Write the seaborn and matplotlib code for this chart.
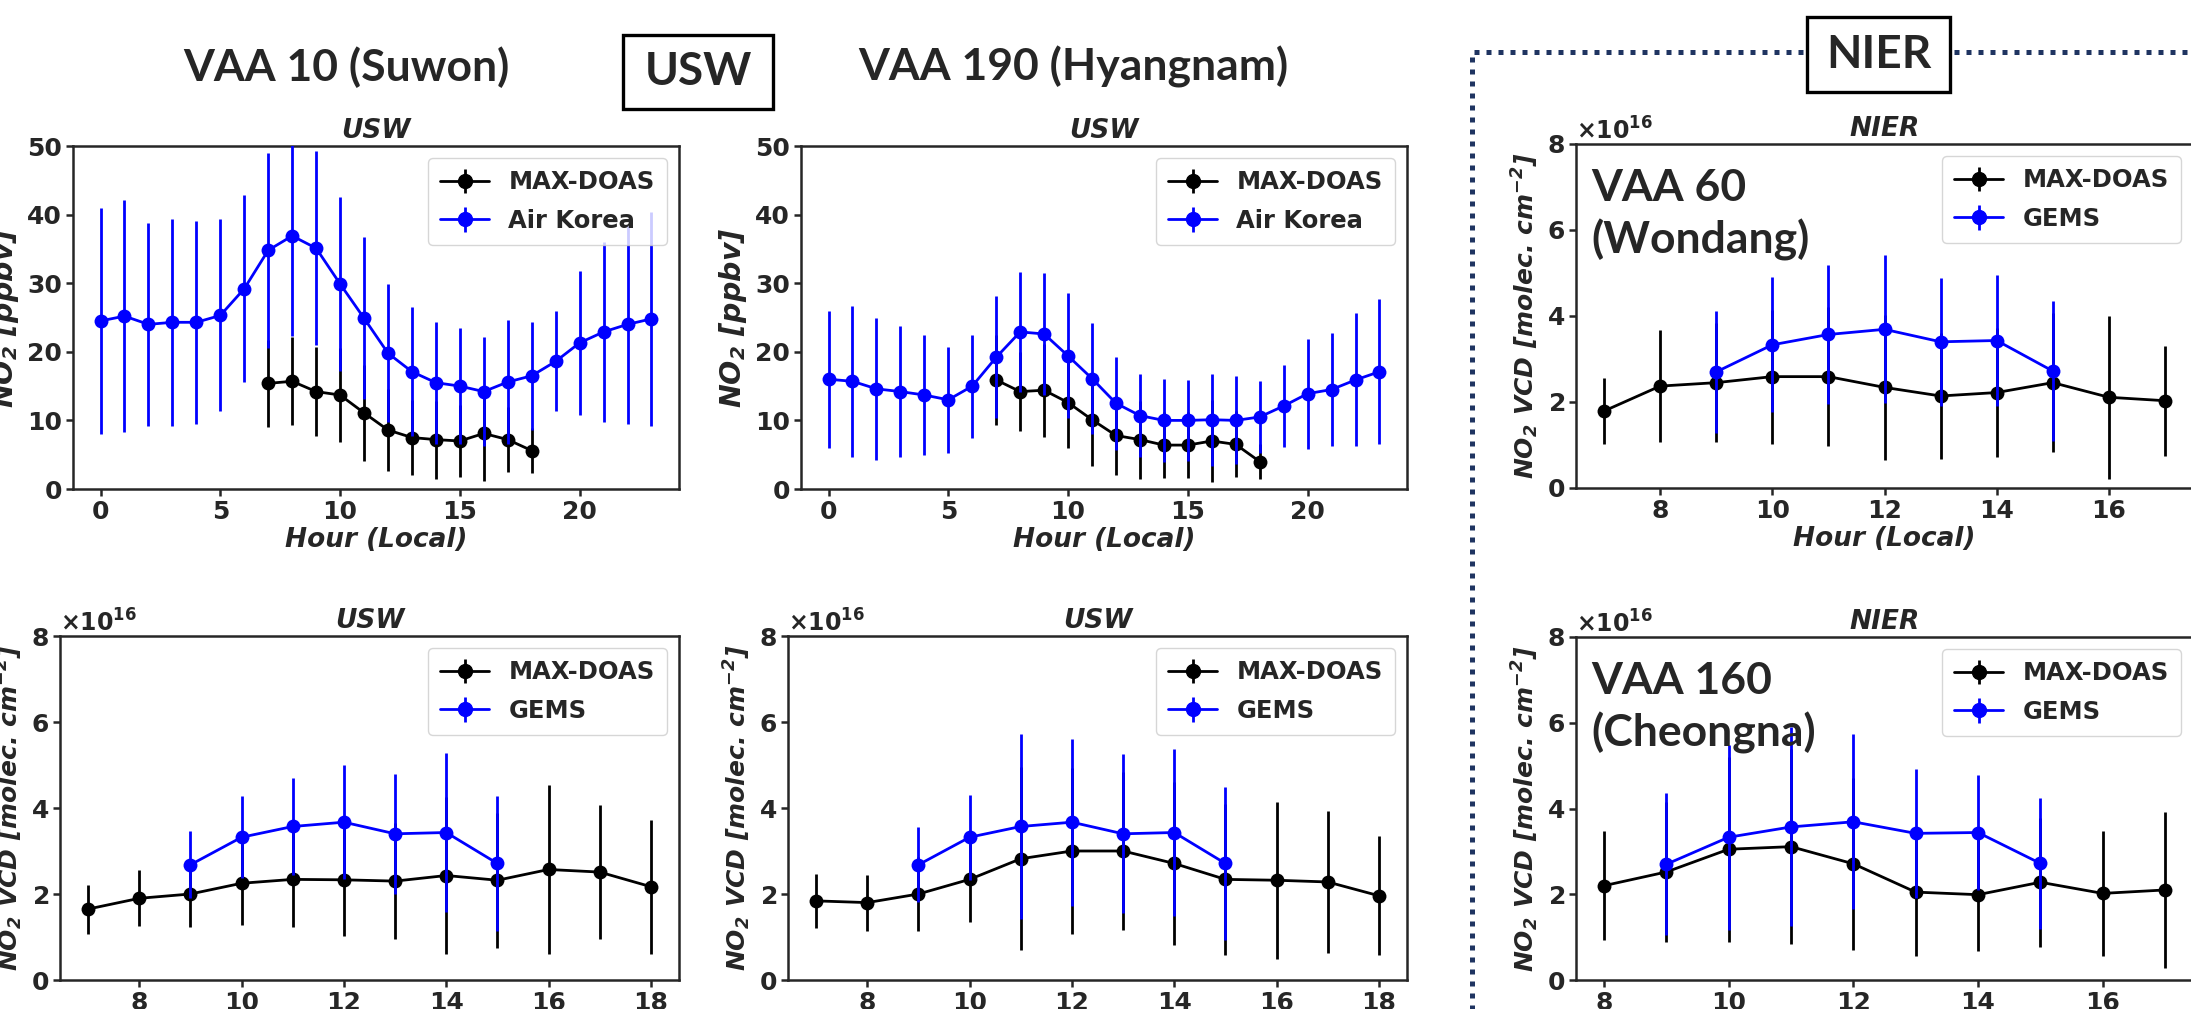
import numpy as np
import pandas as pd
import matplotlib
matplotlib.use("Agg")
import matplotlib.pyplot as plt
import seaborn as sns
from matplotlib.lines import Line2D
from matplotlib.patches import Rectangle
from matplotlib.ticker import ScalarFormatter

# ---------------- data ----------------
hours_all = list(range(24))
hours_doas = list(range(7, 19))
hours_gems = list(range(9, 16))
hours_wondang = list(range(7, 18))
hours_cheongna = list(range(8, 18))

# Surface NO2 [ppbv]
suwon_airkorea = [24.5, 25.2, 24.0, 24.3, 24.3, 25.3, 29.2, 34.8, 36.9, 35.1, 29.9, 24.9,
                  19.8, 17.1, 15.5, 15.0, 14.2, 15.6, 16.5, 18.6, 21.3, 22.9, 24.0, 24.8]
suwon_airkorea_sd = [16.5, 16.9, 14.8, 15.1, 14.8, 14.0, 13.6, 14.2, 14.6, 14.1, 12.7, 11.8,
                     10.1, 9.4, 8.9, 8.5, 8.0, 9.0, 7.9, 7.3, 10.5, 13.1, 14.5, 15.6]
suwon_doas_surf = [15.4, 15.7, 14.2, 13.7, 11.1, 8.6, 7.5, 7.2, 7.0, 8.1, 7.2, 5.6]
suwon_doas_surf_sd = [6.3, 6.4, 6.5, 6.9, 7.0, 6.0, 5.5, 5.7, 5.3, 6.9, 4.7, 3.3]

hyang_airkorea = [16.0, 15.7, 14.6, 14.2, 13.7, 13.0, 15.0, 19.2, 22.9, 22.6, 19.4, 16.1,
                  12.5, 10.7, 10.0, 10.0, 10.1, 10.0, 10.5, 12.1, 13.9, 14.5, 15.9, 17.1]
hyang_airkorea_sd = [10.0, 11.0, 10.4, 9.6, 8.8, 7.7, 7.5, 8.9, 8.8, 8.9, 9.1, 8.1,
                     6.8, 6.0, 6.1, 5.9, 6.7, 6.4, 5.2, 6.0, 8.0, 8.2, 9.7, 10.6]
hyang_doas_surf = [15.9, 14.2, 14.4, 12.6, 10.1, 7.8, 7.2, 6.4, 6.4, 7.0, 6.5, 4.0]
hyang_doas_surf_sd = [6.5, 5.8, 6.8, 6.6, 6.7, 5.7, 5.7, 4.8, 4.8, 6.0, 4.8, 2.5]

# Column NO2 VCD [x1e16 molec. cm-2]
VCD_SCALE = 1e16
suwon_doas_vcd = [1.65, 1.90, 2.00, 2.25, 2.34, 2.33, 2.30, 2.43, 2.32, 2.57, 2.51, 2.17]
suwon_doas_vcd_sd = [0.57, 0.65, 0.77, 0.97, 1.10, 1.30, 1.34, 1.82, 1.57, 1.96, 1.55, 1.56]
suwon_gems = [2.68, 3.32, 3.57, 3.67, 3.40, 3.43, 2.71]
suwon_gems_sd = [0.78, 0.95, 1.13, 1.33, 1.39, 1.86, 1.58]

hyang_doas_vcd = [1.84, 1.80, 2.00, 2.34, 2.82, 3.00, 3.00, 2.71, 2.34, 2.32, 2.28, 1.96]
hyang_doas_vcd_sd = [0.63, 0.65, 0.86, 1.00, 2.13, 1.94, 1.83, 1.90, 1.75, 1.82, 1.66, 1.39]
hyang_gems = [2.68, 3.32, 3.57, 3.67, 3.40, 3.43, 2.71]
hyang_gems_sd = [0.87, 0.99, 2.14, 1.94, 1.85, 1.95, 1.77]

wondang_doas_vcd = [1.79, 2.37, 2.45, 2.59, 2.59, 2.34, 2.14, 2.22, 2.45, 2.11, 2.03]
wondang_doas_vcd_sd = [0.76, 1.31, 1.38, 1.56, 1.62, 1.69, 1.47, 1.50, 1.61, 1.90, 1.28]
wondang_gems = [2.70, 3.33, 3.57, 3.69, 3.40, 3.43, 2.72]
wondang_gems_sd = [1.41, 1.57, 1.62, 1.72, 1.49, 1.52, 1.62]

cheongna_doas_vcd = [2.20, 2.52, 3.05, 3.11, 2.71, 2.05, 1.99, 2.28, 2.02, 2.10]
cheongna_doas_vcd_sd = [1.27, 1.63, 2.16, 2.28, 2.00, 1.50, 1.32, 1.50, 1.46, 1.83]
cheongna_gems = [2.70, 3.33, 3.57, 3.69, 3.42, 3.44, 2.72]
cheongna_gems_sd = [1.66, 2.16, 2.32, 2.04, 1.50, 1.34, 1.53]

# ---------------- style ----------------
sns.set_style("ticks")
plt.rcParams["font.family"] = ["DejaVu Sans"]
plt.rcParams["font.weight"] = "bold"
plt.rcParams["mathtext.default"] = "regular"
plt.rcParams["axes.linewidth"] = 1.8
plt.rcParams["xtick.major.width"] = 1.8
plt.rcParams["ytick.major.width"] = 1.8
plt.rcParams["xtick.major.size"] = 5
plt.rcParams["ytick.major.size"] = 5

W, H = 2191, 1009
fig = plt.figure(figsize=(W / 100, H / 100), dpi=100)


def px_axes(left, top, right, bottom):
    return fig.add_axes([left / W, 1 - bottom / H, (right - left) / W, (bottom - top) / H])


LW = 2.0
MS = 10


def series(ax, x, y, sd, color, label, z, scale=1.0):
    y = np.asarray(y, float) * scale
    sd = np.asarray(sd, float) * scale
    ax.errorbar(x, y, yerr=sd, fmt="none", ecolor=color, elinewidth=LW, zorder=z)
    df = pd.DataFrame({"hour": x, "val": y})
    sns.lineplot(data=df, x="hour", y="val", ax=ax, color=color, marker="o",
                 markersize=MS, markeredgewidth=0, linewidth=LW, legend=False,
                 zorder=z + 0.5)
    # legend proxy (errorbar style handle)
    ax.errorbar([np.nan], [np.nan], yerr=[np.nan], fmt="-o", color=color, ecolor=color,
                markersize=MS, linewidth=LW, elinewidth=LW, label=label)


def style(ax, title, ylabel, xlabel=None, vcd=False):
    ax.set_title(title, fontsize=19, fontweight="bold", style="italic", pad=6)
    ax.set_ylabel(ylabel, fontsize=18 if vcd else 20.5, fontweight="bold", style="italic",
                  labelpad=4)
    if xlabel:
        ax.set_xlabel(xlabel, fontsize=19, fontweight="bold", style="italic", labelpad=2)
    else:
        ax.set_xlabel("")
    ax.tick_params(labelsize=18, pad=3)
    for s in ax.spines.values():
        s.set_linewidth(1.8)
    if vcd:
        ax.set_ylim(0, 8e16)
        ax.set_yticks(np.arange(0, 9, 2) * VCD_SCALE)
        fmt = ScalarFormatter(useMathText=True)
        ax.yaxis.set_major_formatter(fmt)
        ax.yaxis.get_offset_text().set_fontsize(17)
        ax.yaxis.get_offset_text().set_fontweight("bold")
    else:
        ax.set_ylim(0, 50)
        ax.set_yticks([0, 10, 20, 30, 40, 50])
    ax.legend(loc="upper right", prop={"weight": "bold", "size": 17.5},
              handlelength=2.0, borderpad=0.5, labelspacing=0.6)


ylab_surf = "NO$_2$ [ppbv]"
ylab_vcd = "NO$_2$ VCD [molec. cm$^{-2}$]"

# top-left
ax1 = px_axes(73, 146, 679, 489)
series(ax1, hours_doas, suwon_doas_surf, suwon_doas_surf_sd, "black", "MAX-DOAS", 2)
series(ax1, hours_all, suwon_airkorea, suwon_airkorea_sd, "blue", "Air Korea", 4)
ax1.set_xlim(-1.15, 24.15)
ax1.set_xticks([0, 5, 10, 15, 20])
style(ax1, "USW", ylab_surf, "Hour (Local)")

# top-middle
ax2 = px_axes(801, 146, 1407, 489)
series(ax2, hours_doas, hyang_doas_surf, hyang_doas_surf_sd, "black", "MAX-DOAS", 2)
series(ax2, hours_all, hyang_airkorea, hyang_airkorea_sd, "blue", "Air Korea", 4)
ax2.set_xlim(-1.15, 24.15)
ax2.set_xticks([0, 5, 10, 15, 20])
style(ax2, "USW", ylab_surf, "Hour (Local)")

# top-right
ax3 = px_axes(1576, 144, 2193, 488)
series(ax3, hours_wondang, wondang_doas_vcd, wondang_doas_vcd_sd, "black", "MAX-DOAS", 2, VCD_SCALE)
series(ax3, hours_gems, wondang_gems, wondang_gems_sd, "blue", "GEMS", 4, VCD_SCALE)
ax3.set_xlim(6.5, 17.5)
ax3.set_xticks([8, 10, 12, 14, 16])
style(ax3, "NIER", ylab_vcd, "Hour (Local)", vcd=True)
ax3.text(0.025, 0.93, "VAA 60\n(Wondang)", transform=ax3.transAxes, ha="left", va="top",
         family="Lato", fontweight="bold", fontsize=32, linespacing=1.3, zorder=10)

# bottom-left
ax4 = px_axes(60, 636, 679, 980)
series(ax4, hours_doas, suwon_doas_vcd, suwon_doas_vcd_sd, "black", "MAX-DOAS", 2, VCD_SCALE)
series(ax4, hours_gems, suwon_gems, suwon_gems_sd, "blue", "GEMS", 4, VCD_SCALE)
ax4.set_xlim(6.45, 18.55)
ax4.set_xticks([8, 10, 12, 14, 16, 18])
style(ax4, "USW", ylab_vcd, None, vcd=True)

# bottom-middle
ax5 = px_axes(788, 636, 1407, 980)
series(ax5, hours_doas, hyang_doas_vcd, hyang_doas_vcd_sd, "black", "MAX-DOAS", 2, VCD_SCALE)
series(ax5, hours_gems, hyang_gems, hyang_gems_sd, "blue", "GEMS", 4, VCD_SCALE)
ax5.set_xlim(6.45, 18.55)
ax5.set_xticks([8, 10, 12, 14, 16, 18])
style(ax5, "USW", ylab_vcd, None, vcd=True)

# bottom-right
ax6 = px_axes(1576, 637, 2193, 980)
series(ax6, hours_cheongna, cheongna_doas_vcd, cheongna_doas_vcd_sd, "black", "MAX-DOAS", 2, VCD_SCALE)
series(ax6, hours_gems, cheongna_gems, cheongna_gems_sd, "blue", "GEMS", 4, VCD_SCALE)
ax6.set_xlim(7.55, 17.45)
ax6.set_xticks([8, 10, 12, 14, 16])
style(ax6, "NIER", ylab_vcd, None, vcd=True)
ax6.text(0.025, 0.93, "VAA 160\n(Cheongna)", transform=ax6.transAxes, ha="left", va="top",
         family="Lato", fontweight="bold", fontsize=32, linespacing=1.3, zorder=10)

# ---------------- figure annotations ----------------
big = dict(family="Lato", fontweight="bold", fontsize=32, ha="center", va="center")
fig.text(346 / W, 1 - 67 / H, "VAA 10 (Suwon)", **big)
fig.text(1073 / W, 1 - 67 / H, "VAA 190 (Hyangnam)", **big)

# dotted NIER frame
frame = Line2D([1472 / W, 1472 / W, 1.01], [-0.01, 1 - 52 / H, 1 - 52 / H],
               transform=fig.transFigure, color="#1f3461", linewidth=3.6,
               linestyle=(0, (1, 1.4)), dash_capstyle="butt", zorder=1)
fig.add_artist(frame)


def label_box(x0, y0, x1, y1, text):
    rect = Rectangle((x0 / W, 1 - y1 / H), (x1 - x0) / W, (y1 - y0) / H,
                     transform=fig.transFigure, facecolor="white", edgecolor="black",
                     linewidth=2.4, zorder=5)
    fig.add_artist(rect)
    fig.text((x0 + x1) / 2 / W, 1 - (y0 + y1) / 2 / H, text, family="Lato",
             fontweight="bold", fontsize=33, ha="center", va="center", zorder=6)


label_box(623, 35, 773, 109, "USW")
label_box(1807, 17, 1950, 92, "NIER")

fig.savefig("out.png", dpi=100)
